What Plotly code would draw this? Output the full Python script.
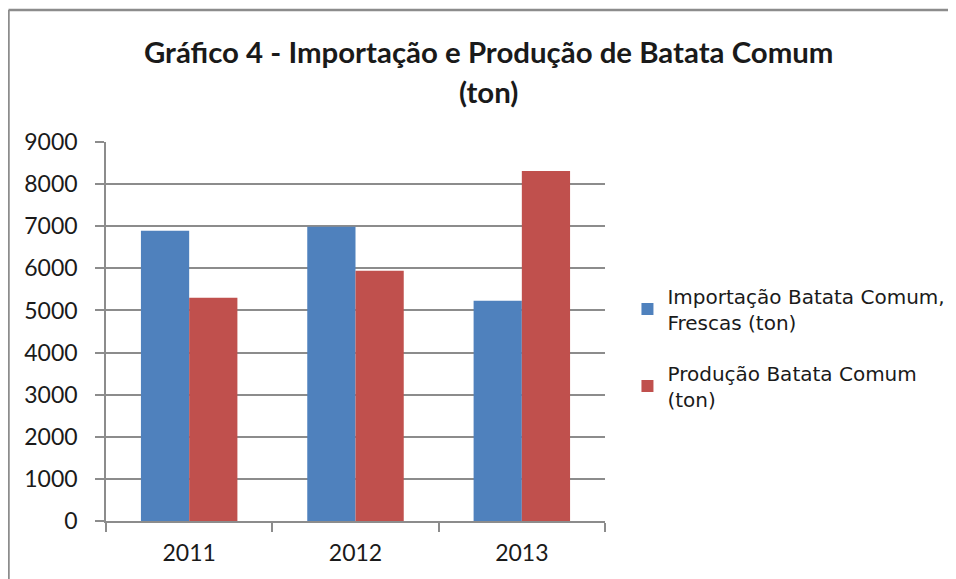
import plotly.graph_objects as go

anos = ["2011", "2012", "2013"]
importacao = [6890, 6990, 5230]
producao = [5300, 5945, 8310]

nome_importacao = "Importação Batata Comum,<br>Frescas (ton)"
nome_producao = "Produção Batata Comum<br>(ton)"

AZUL = "#4F81BD"
VERMELHO = "#C0504D"
CINZA = "#8C8C8C"

# margens (a página desloca a figura 8 px)
ML, MR, MT, MB = 98, 359, 134, 66
PW, PH = 956 - ML - MR, 579 - MT - MB

fig = go.Figure()
fig.add_trace(go.Bar(
    x=anos, y=importacao, name=nome_importacao, legendgroup="imp",
    marker=dict(color=AZUL, line=dict(width=0)),
))
fig.add_trace(go.Bar(
    x=anos, y=producao, name=nome_producao, legendgroup="prod",
    marker=dict(color=VERMELHO, line=dict(width=0)),
))

fig.update_layout(
    width=956, height=579,
    barmode="group",
    bargap=0.42, bargroupgap=0,
    plot_bgcolor="white", paper_bgcolor="white",
    margin=dict(l=ML, r=MR, t=MT, b=MB, autoexpand=False),
    font=dict(family="Lato, sans-serif", color="#1a1a1a"),
    legend=dict(
        x=1.045, y=0.645, xanchor="left", yanchor="top",
        font=dict(family="DejaVu Sans", size=20, color="#1a1a1a"),
        tracegroupgap=22,
    ),
    showlegend=True,
)

fig.update_yaxes(
    range=[0, 9000], dtick=1000, tickformat="d",
    showgrid=True, gridcolor=CINZA, gridwidth=1.5,
    showline=True, linecolor=CINZA, linewidth=1.5,
    ticks="outside", ticklen=9, tickcolor=CINZA, tickwidth=1.5,
    ticklabelstandoff=13,
    tickfont=dict(size=23), zeroline=False,
)
fig.update_xaxes(
    showline=True, linecolor=CINZA, linewidth=1.5,
    ticks="outside", tickson="boundaries", ticklen=9,
    tickcolor=CINZA, tickwidth=1.5, ticklabelstandoff=11,
    tickfont=dict(size=23),
)

titulo = ["Gráfico 4 - Importação e Produção de Batata Comum", "(ton)"]
for linha, yc in zip(titulo, [43, 83]):
    fig.add_annotation(
        text="<b>" + linha + "</b>",
        xref="paper", yref="paper", x=(480 - ML) / PW, y=1 + (MT - yc) / PH,
        xanchor="center", yanchor="middle",
        showarrow=False, align="center",
        font=dict(family="Lato", size=29.4, color="#1a1a1a"),
    )

# moldura do gráfico (topo e lado esquerdo)
x_esq = (0.5 - ML) / PW
y_top = 1 + (MT - 2) / PH
fig.add_shape(type="line", xref="paper", yref="paper",
              x0=x_esq, x1=1.0 + MR / PW, y0=y_top, y1=y_top,
              line=dict(color=CINZA, width=2.5))
fig.add_shape(type="line", xref="paper", yref="paper",
              x0=x_esq, x1=x_esq, y0=y_top, y1=-MB / PH,
              line=dict(color=CINZA, width=2.5))

fig.write_html("out.html")
